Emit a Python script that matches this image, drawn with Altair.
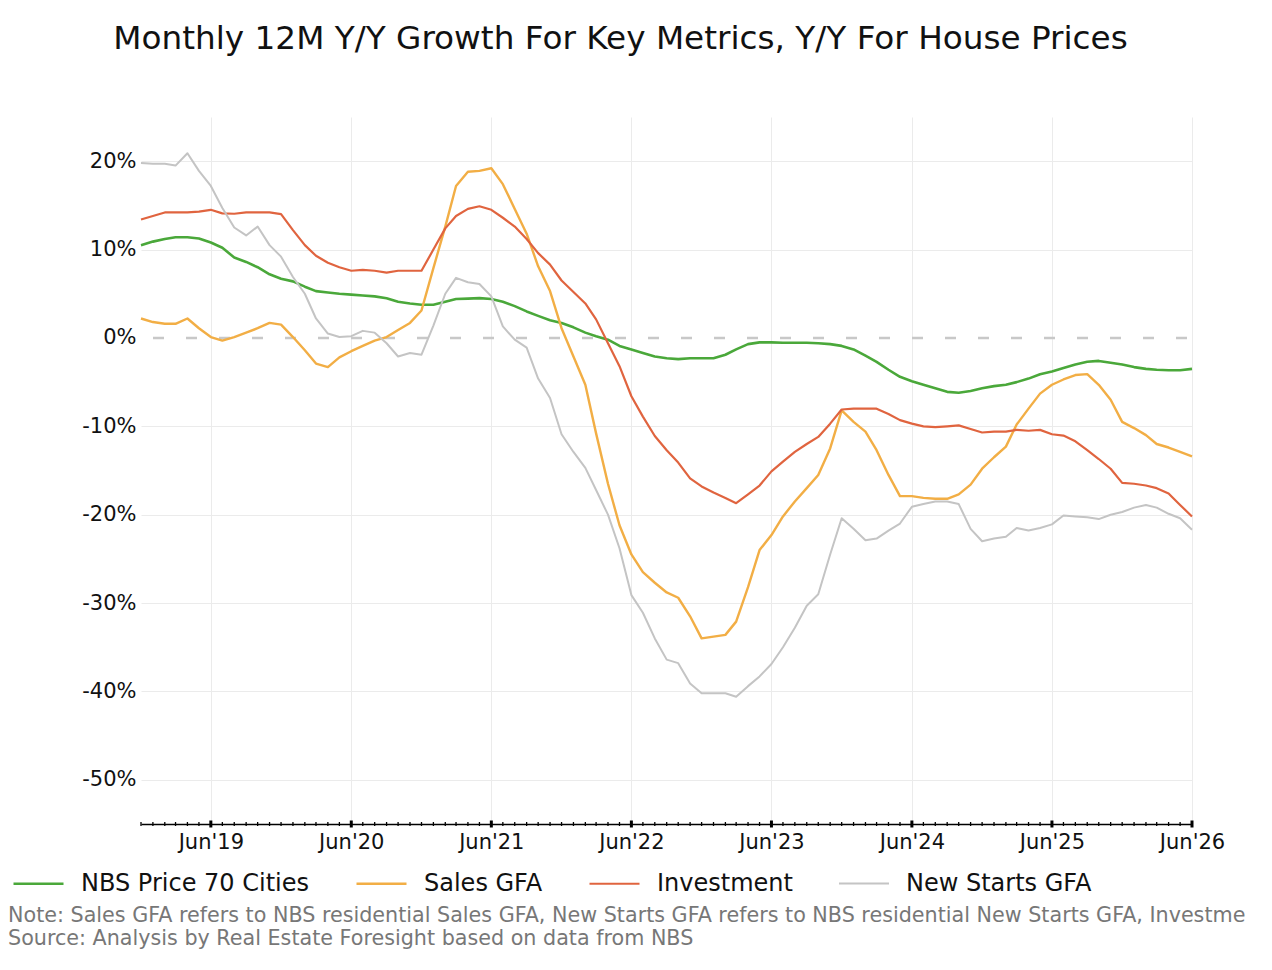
import altair as alt
import pandas as pd

# ---- data (monthly, Dec 2018 .. Jun 2026) ----
months = pd.date_range("2018-12-01", "2026-06-01", freq="MS").strftime("%Y-%m-%d").tolist()

nbs_price = [10.5, 10.9, 11.2, 11.4, 11.4, 11.25, 10.8, 10.2, 9.1, 8.6, 8.0, 7.2, 6.7, 6.4, 5.8, 5.3,
             5.15, 5.0, 4.9, 4.8, 4.7, 4.5, 4.1, 3.9, 3.75, 3.75, 4.1, 4.4, 4.45, 4.5, 4.4, 4.1, 3.6,
             3.0, 2.5, 2.0, 1.7, 1.2, 0.6, 0.2, -0.2, -0.9, -1.3, -1.7, -2.1, -2.3, -2.4, -2.3, -2.3,
             -2.3, -1.9, -1.3, -0.7, -0.5, -0.5, -0.55, -0.55, -0.55, -0.6, -0.7, -0.9, -1.3, -2.0,
             -2.7, -3.6, -4.4, -4.9, -5.3, -5.7, -6.1, -6.2, -6.0, -5.7, -5.45, -5.3, -5.0, -4.6,
             -4.1, -3.8, -3.4, -3.0, -2.7, -2.6, -2.8, -3.0, -3.3, -3.5, -3.6, -3.65, -3.65, -3.5]

sales_gfa = [2.2, 1.8, 1.6, 1.6, 2.2, 1.1, 0.1, -0.3, 0.1, 0.6, 1.1, 1.7, 1.5, 0.1, -1.4, -2.9,
             -3.3, -2.2, -1.5, -0.9, -0.3, 0.1, 0.9, 1.7, 3.1, 7.9, 12.6, 17.2, 18.8, 18.9, 19.2,
             17.4, 14.6, 11.8, 8.1, 5.3, 1.1, -2.1, -5.3, -10.8, -16.5, -21.2, -24.5, -26.5, -27.7,
             -28.8, -29.4, -31.5, -34.0, -33.8, -33.6, -32.1, -28.2, -24.0, -22.3, -20.2, -18.5,
             -17.0, -15.5, -12.5, -8.2, -9.5, -10.6, -12.7, -15.5, -17.9, -17.9, -18.1, -18.2,
             -18.2, -17.7, -16.6, -14.8, -13.5, -12.3, -9.8, -8.0, -6.3, -5.3, -4.7, -4.2, -4.1,
             -5.3, -7.0, -9.5, -10.2, -11.0, -12.0, -12.4, -12.9, -13.4]

investment = [13.4, 13.8, 14.2, 14.2, 14.2, 14.3, 14.5, 14.1, 14.05, 14.2, 14.2, 14.2, 14.0, 12.2,
              10.5, 9.3, 8.5, 8.0, 7.6, 7.7, 7.6, 7.4, 7.6, 7.6, 7.6, 10.0, 12.4, 13.8, 14.6, 14.9,
              14.5, 13.6, 12.6, 11.2, 9.6, 8.3, 6.5, 5.2, 3.9, 2.1, -0.6, -3.2, -6.6, -8.9, -11.1,
              -12.7, -14.1, -15.9, -16.8, -17.5, -18.1, -18.7, -17.7, -16.7, -15.1, -14.0, -12.9,
              -12.0, -11.2, -9.7, -8.1, -8.0, -8.0, -8.0, -8.6, -9.3, -9.7, -10.0, -10.1, -10.0,
              -9.9, -10.3, -10.7, -10.6, -10.6, -10.4, -10.5, -10.4, -10.9, -11.05, -11.7, -12.7,
              -13.7, -14.8, -16.4, -16.5, -16.7, -17.0, -17.6, -18.9, -20.2]

new_starts = [19.8, 19.7, 19.7, 19.5, 20.9, 18.9, 17.2, 14.7, 12.5, 11.6, 12.6, 10.5, 9.2, 6.9, 5.0,
              2.2, 0.5, 0.1, 0.2, 0.8, 0.6, -0.6, -2.1, -1.7, -1.9, 1.4, 5.0, 6.8, 6.3, 6.1, 4.7,
              1.3, -0.2, -1.1, -4.6, -6.8, -10.9, -12.9, -14.7, -17.2, -20.0, -23.8, -29.1, -31.1,
              -34.0, -36.4, -36.8, -39.1, -40.2, -40.2, -40.2, -40.6, -39.4, -38.3, -36.9, -35.0,
              -32.8, -30.3, -29.0, -24.5, -20.4, -21.6, -22.9, -22.7, -21.8, -21.0, -19.1, -18.8,
              -18.5, -18.5, -18.8, -21.6, -23.0, -22.7, -22.5, -21.5, -21.8, -21.5, -21.1, -20.1,
              -20.2, -20.3, -20.5, -20.0, -19.7, -19.2, -18.9, -19.2, -19.9, -20.4, -21.7]

series_names = ["NBS Price 70 Cities", "Sales GFA", "Investment", "New Starts GFA"]
series_colors = ["#4aa83a", "#f2ae45", "#e0643f", "#c4c4c4"]
series_widths = [2.6, 2.0, 2.2, 2.0]

y_tick_values = [20, 10, 0, -10, -20, -30, -40, -50]
x_tick_years = [2019, 2020, 2021, 2022, 2023, 2024, 2025, 2026]

title_text = "Monthly 12M Y/Y Growth For Key Metrics, Y/Y For House Prices"
note_lines = [
    "Note: Sales GFA refers to NBS residential Sales GFA, New Starts GFA refers to NBS residential New Starts GFA, Investme",
    "Source: Analysis by Real Estate Foresight based on data from NBS",
]

# ---- tables ----
rows = []
for name, vals in zip(series_names, [nbs_price, sales_gfa, investment, new_starts]):
    for d, v in zip(months, vals):
        rows.append({"date": d, "value": v, "series": name})
df = pd.DataFrame(rows)

month_df = pd.DataFrame({"date": months})
jun_df = pd.DataFrame({"date": [m for m in months if m[5:7] == "06"]})
zero_df = pd.DataFrame({"v": [0]})
note_df = pd.DataFrame({"k": [0]})

W, H = 1051, 707

x_scale = alt.Scale(
    type="utc",
    domain=[alt.DateTime(year=2018, month=12, date=1, utc=True),
            alt.DateTime(year=2026, month=6, date=1, utc=True)],
)
y_scale = alt.Scale(domain=[-55, 25], nice=False, zero=False)

grid_opacity = {"condition": {"test": "datum.value === 0", "value": 0}, "value": 1}

lines = alt.Chart(df).mark_line(strokeJoin="round").encode(
    x=alt.X(
        "date:T",
        scale=x_scale,
        title=None,
        axis=alt.Axis(
            values=[alt.DateTime(year=y, month=6, date=1, utc=True) for y in x_tick_years],
            format="%b'%y",
            labelFontSize=21,
            labelColor="#111111",
            labelFont="DejaVu Sans",
            labelPadding=3,
            ticks=True,
            tickSize=4,
            tickOpacity=0,
            domain=True,
            domainColor="#000000",
            domainWidth=1.5,
            grid=True,
            gridColor="#ebebeb",
            gridWidth=1,
            labelFlush=False,
        ),
    ),
    y=alt.Y(
        "value:Q",
        scale=y_scale,
        title=None,
        axis=alt.Axis(
            values=y_tick_values,
            labelExpr="datum.value + '%'",
            labelFontSize=21,
            labelColor="#111111",
            labelFont="DejaVu Sans",
            labelPadding=5,
            ticks=False,
            domain=False,
            grid=True,
            gridColor="#ebebeb",
            gridWidth=1,
            gridOpacity=grid_opacity,
        ),
    ),
    color=alt.Color(
        "series:N",
        scale=alt.Scale(domain=series_names, range=series_colors),
        sort=series_names,
        legend=alt.Legend(
            title=None,
            orient="none",
            direction="horizontal",
            legendX=-129,
            legendY=740,
            symbolType="stroke",
            symbolSize=2500,
            symbolStrokeWidth=2.5,
            labelFontSize=24,
            labelFont="DejaVu Sans",
            labelColor="#111111",
            labelOffset=16,
            columnPadding=42,
            padding=0,
            labelLimit=400,
        ),
    ),
    strokeWidth=alt.StrokeWidth(
        "series:N",
        scale=alt.Scale(domain=series_names, range=series_widths),
        legend=None,
    ),
    order=alt.Order("date:T"),
)

zero_line = alt.Chart(zero_df).mark_rule(
    color="#c8c8c8", strokeWidth=2.5, strokeDash=[11, 22], strokeDashOffset=-5
).encode(y=alt.Y("v:Q", scale=y_scale))

minor_ticks = alt.Chart(month_df).mark_rule(color="#000000", strokeWidth=1.3).encode(
    x=alt.X("date:T", scale=x_scale),
    y=alt.value(H - 2),
    y2=alt.value(H + 2),
)

major_ticks = alt.Chart(jun_df).mark_rule(color="#000000", strokeWidth=3).encode(
    x=alt.X("date:T", scale=x_scale),
    y=alt.value(H - 3.5),
    y2=alt.value(H + 3.5),
)

notes = alt.Chart(note_df).mark_text(
    align="left", baseline="alphabetic", fontSize=20.7, font="DejaVu Sans",
    color="#777777", lineHeight=23,
).encode(
    x=alt.value(-133),
    y=alt.value(805),
    text=alt.value(note_lines),
)

chart = alt.layer(zero_line, lines, minor_ticks, major_ticks, notes).properties(
    width=W,
    height=H,
    background="white",
    padding={"left": 133, "top": 109, "right": 72, "bottom": 130},
    autosize=alt.AutoSizeParams(type="none"),
    title=alt.TitleParams(
        text=title_text,
        fontSize=32.7,
        font="DejaVu Sans",
        fontWeight="normal",
        color="#111111",
        anchor="middle",
        frame="group",
        dx=-46,
        offset=61,
    ),
).configure_view(stroke=None, strokeWidth=0)

chart.save("out.html", embed_options={"renderer": "svg", "actions": False})
